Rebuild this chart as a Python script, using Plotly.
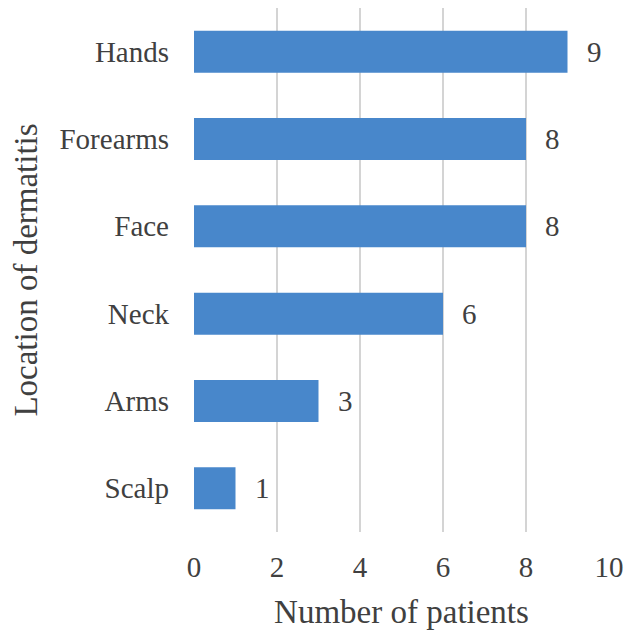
import plotly.graph_objects as go

categories = ["Scalp", "Arms", "Neck", "Face", "Forearms", "Hands"]
patients = [1, 3, 6, 8, 8, 9]
x_ticks = [0, 2, 4, 6, 8, 10]

FONT = "Liberation Serif"
TXT = "#404040"
BAR = "#4887cb"

fig = go.Figure()
fig.add_trace(go.Bar(
    x=patients, y=categories, orientation="h",
    marker=dict(color=BAR, line=dict(width=0)),
    width=0.48, hoverinfo="skip",
))
for v, c in zip(patients, categories):
    fig.add_annotation(x=v, y=c, xref="x", yref="y", text=str(v),
                       showarrow=False, xanchor="left", xshift=17,
                       font=dict(family=FONT, size=29, color=TXT))

# page body has an 8px offset, so the figure is sized to fit the 636x630 window
fig.update_layout(
    width=628, height=622,
    margin=dict(l=186, r=27, t=0, b=98),
    paper_bgcolor="white", plot_bgcolor="white",
    showlegend=False,
    font=dict(family=FONT, size=29, color=TXT),
)
fig.update_xaxes(
    range=[0, 10], tickvals=x_ticks, ticktext=[str(t) for t in x_ticks],
    showgrid=True, gridcolor="#d4d4d4", gridwidth=1.5,
    zeroline=False, showline=False, ticks="",
    ticklabelstandoff=15, automargin=False,
    tickfont=dict(family=FONT, size=29, color=TXT),
    title=dict(text="Number of patients", standoff=22,
               font=dict(family=FONT, size=33, color=TXT)),
    fixedrange=True,
)
fig.update_yaxes(
    categoryorder="array", categoryarray=categories,
    range=[-0.5, 5.5],
    showgrid=False, zeroline=False, showline=False, ticks="",
    ticklabelstandoff=24, automargin=False,
    tickfont=dict(family=FONT, size=29, color=TXT),
    title=dict(text="Location of dermatitis", standoff=12,
               font=dict(family=FONT, size=33, color=TXT)),
    fixedrange=True,
)

fig.write_html("out.html")
